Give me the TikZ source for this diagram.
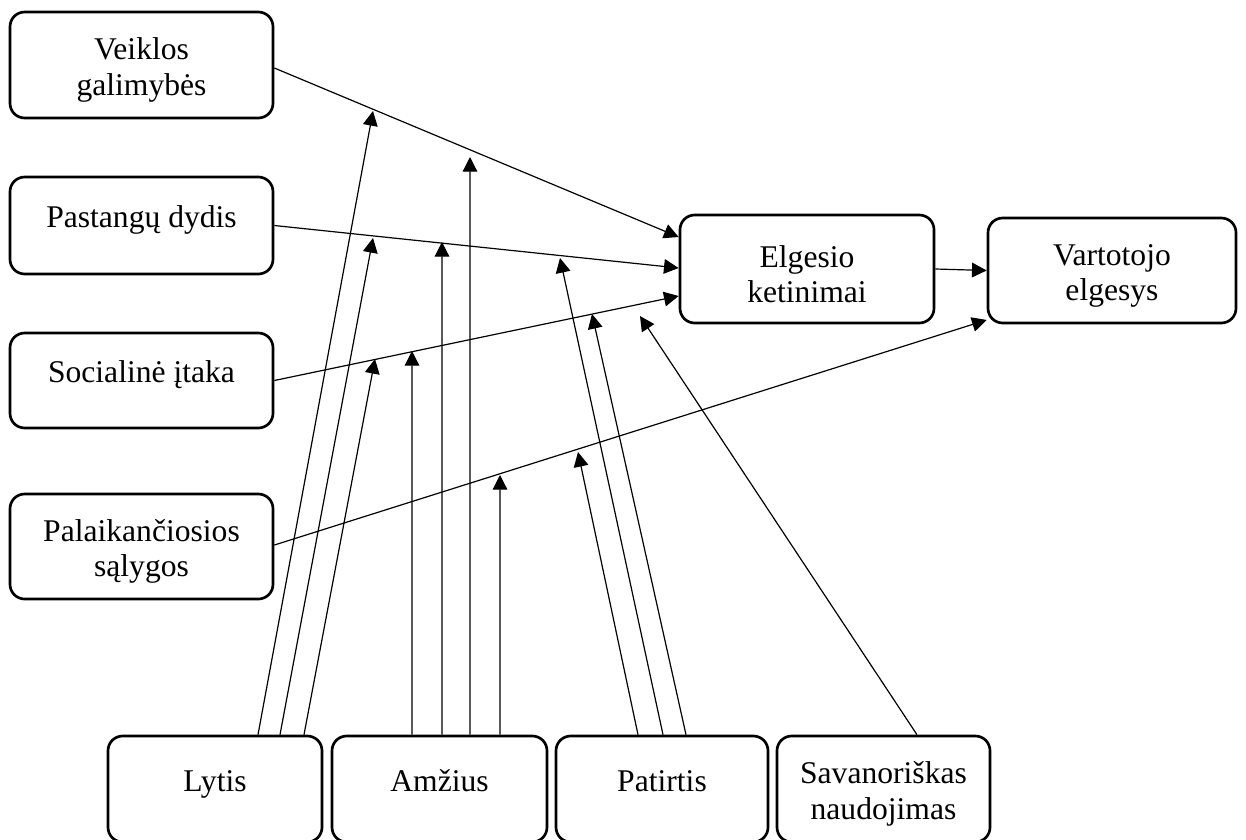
\documentclass[tikz,border=0pt]{standalone}
\usepackage{fontspec}
\setmainfont{Liberation Serif}
\usetikzlibrary{arrows.meta}
\newcommand\firststrut{\rule{0pt}{24pt}}
\begin{document}
\begin{tikzpicture}[x=0.75pt,y=-0.75pt,
  box/.style={draw, line width=2pt, rounded corners=11pt, inner sep=0pt,
    align=center, font=\fontsize{23.7}{26.5}\selectfont},
  oneline/.style={text height=14pt, text depth=11pt},
  leftbox/.style={box, minimum width=197.25pt},
  bottombox/.style={box, oneline, minimum height=79.5pt},
  arr/.style={line width=0.9pt, -{Triangle[length=11pt,width=11pt]}}]
\clip (0,0) rectangle (1246,839);

% factor boxes on the left
\node[leftbox, minimum height=79.5pt] (veik) at (141.5,65) {\firststrut Veiklos\\galimybės};
\node[leftbox, oneline, minimum height=72.75pt] (past) at (141.5,225.5) {Pastangų dydis};
\node[leftbox, oneline, minimum height=71.25pt] (soc) at (141.5,380.5) {Socialinė įtaka};
\node[leftbox, minimum height=78.75pt] (pal) at (141.5,546.5) {\firststrut Palaikančiosios\\sąlygos};

% intention and behaviour
\node[box, minimum width=190.5pt, minimum height=81pt] (elg) at (807,269) {\firststrut Elgesio\\ketinimai};
\node[box, minimum width=186pt, minimum height=78.75pt] (var) at (1112,270.5) {\firststrut Vartotojo\\elgesys};

% moderators along the bottom
\node[bottombox, minimum width=160.5pt] (lytis) at (215,789) {Lytis};
\node[bottombox, minimum width=161.25pt] (amz) at (439.5,789) {Amžius};
\node[bottombox, minimum width=159pt] (pat) at (662,789) {Patirtis};
\node[box, minimum width=159.75pt, minimum height=79.5pt] (sav) at (883.5,789) {\firststrut Savanoriškas\\naudojimas};

% main paths
\draw[arr] ([yshift=-2.25pt]veik.east) -- ([yshift=24pt]elg.west);
\draw[arr] (past.east) -- ([yshift=0.75pt]elg.west);
\draw[arr] (soc.east) -- ([yshift=-20.25pt]elg.west);
\draw[arr] ([yshift=1.1pt]pal.east) -- ([yshift=-37.1pt]var.west);
\draw[arr] (elg.east) -- (var.west);

% points where moderating arrows end
\coordinate (l1) at (373,111);
\coordinate (l2) at (373,238);
\coordinate (l3) at (375,359);
\coordinate (a1) at (412,351);
\coordinate (a2) at (442,242);
\coordinate (a3) at (470,157);
\coordinate (a4) at (500,475);
\coordinate (p1) at (578,452);
\coordinate (p2) at (560,258);
\coordinate (p3) at (592,314);
\coordinate (s1) at (640,316);

% gender
\draw[arr] ([xshift=32.25pt]lytis.north) -- (l1);
\draw[arr] ([xshift=48.75pt]lytis.north) -- (l2);
\draw[arr] ([xshift=66.75pt]lytis.north) -- (l3);
% age
\draw[arr] ([xshift=-20.6pt]amz.north) -- (a1);
\draw[arr] ([xshift=1.9pt]amz.north) -- (a2);
\draw[arr] ([xshift=22.9pt]amz.north) -- (a3);
\draw[arr] ([xshift=45.4pt]amz.north) -- (a4);
% experience
\draw[arr] ([xshift=-18pt]pat.north) -- (p1);
\draw[arr] ([xshift=0.75pt]pat.north) -- (p2);
\draw[arr] ([xshift=18pt]pat.north) -- (p3);
% voluntariness
\draw[arr] ([xshift=25.1pt]sav.north) -- (s1);
\end{tikzpicture}
\end{document}
